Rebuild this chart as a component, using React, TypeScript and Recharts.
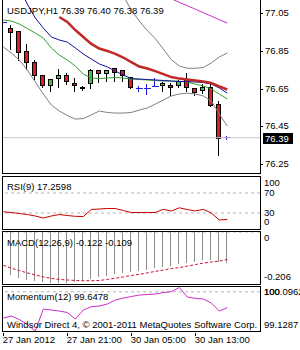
import React from 'react';
import { ComposedChart, Bar, Line, XAxis, YAxis, ReferenceLine } from 'recharts';

// USDJPY H1 candles (bar 28 is the current one)
const opens = [77.0, 76.97, 76.955, 76.85, 76.79, 76.72, 76.667, 76.707, 76.72, 76.678, 76.655, 76.678, 76.746, 76.732, 76.757, 76.746, 76.709, 76.651, 76.651, 76.663, 76.667, 76.667, 76.669, 76.699, 76.651, 76.64, 76.656, 76.568, 76.39];
const highs = [77.03, 76.99, 76.96, 76.89, 76.805, 76.727, 76.7, 76.757, 76.737, 76.709, 76.667, 76.757, 76.753, 76.753, 76.764, 76.748, 76.714, 76.669, 76.678, 76.709, 76.69, 76.681, 76.699, 76.739, 76.656, 76.678, 76.681, 76.589, 76.4];
const lows = [76.97, 76.86, 76.8, 76.75, 76.7, 76.656, 76.638, 76.656, 76.674, 76.638, 76.642, 76.651, 76.681, 76.686, 76.686, 76.686, 76.653, 76.637, 76.619, 76.66, 76.638, 76.616, 76.656, 76.638, 76.616, 76.625, 76.557, 76.294, 76.38];
const closes = [77.0, 76.95, 76.845, 76.79, 76.72, 76.665, 76.699, 76.72, 76.69, 76.667, 76.653, 76.748, 76.731, 76.748, 76.739, 76.722, 76.656, 76.651, 76.651, 76.663, 76.678, 76.656, 76.69, 76.656, 76.63, 76.656, 76.563, 76.386, 76.39];

// overlays on the price window
const maGreen = [77.015, 77.01, 76.994, 76.97, 76.946, 76.92, 76.867, 76.829, 76.803, 76.771, 76.728, 76.707, 76.704, 76.707, 76.71, 76.707, 76.702, 76.699, 76.697, 76.694, 76.691, 76.691, 76.689, 76.686, 76.675, 76.665, 76.649, 76.622, 76.596];
const maBlue = [null, null, 77.185, 77.1, 77.026, 76.973, 76.925, 76.909, 76.898, 76.867, 76.835, 76.808, 76.782, 76.766, 76.744, 76.723, 76.704, 76.702, 76.699, 76.697, 76.694, 76.691, 76.689, 76.688, 76.686, 76.683, 76.675, 76.654, 76.627];
const maRed = [null, null, null, null, null, null, null, 77.031, 77.005, 76.962, 76.925, 76.888, 76.864, 76.851, 76.835, 76.816, 76.792, 76.768, 76.758, 76.744, 76.728, 76.712, 76.704, 76.699, 76.694, 76.689, 76.681, 76.662, 76.646];
const bandUpper = [null, null, null, null, null, null, null, null, null, null, null, null, null, null, null, 77.143, 77.068, 77.01, 76.959, 76.917, 76.861, 76.805, 76.771, 76.759, 76.759, 76.763, 76.787, 76.819, 76.84];
const bandLower = [76.872, 76.84, 76.803, 76.75, 76.686, 76.622, 76.564, 76.532, 76.508, 76.489, 76.492, 76.511, 76.532, 76.524, 76.521, 76.521, 76.524, 76.537, 76.548, 76.569, 76.59, 76.612, 76.622, 76.627, 76.622, 76.612, 76.585, 76.516, 76.452];
const envUpper = [null, null, null, null, null, null, null, null, null, null, null, null, null, null, null, null, null, null, null, null, null, 77.128, 77.109, 77.091, 77.073, 77.054, 77.036, 77.017, 76.999];

// sub windows
const rsi = [32.6, 31, 29, 27, 24, 20, 24, 27, 25, 23.4, 23, 37, 38, 39, 39, 35, 31, 31, 31, 31, 37.4, 34, 40.4, 37, 34, 37.4, 30, 16, 17.2598];
const macdMain = [-0.16, -0.172, -0.182, -0.19, -0.196, -0.2, -0.202, -0.203, -0.201, -0.198, -0.195, -0.186, -0.18, -0.174, -0.168, -0.163, -0.16, -0.155, -0.15, -0.144, -0.138, -0.133, -0.127, -0.121, -0.117, -0.112, -0.11, -0.118, -0.122];
const macdSignal = [-0.132, -0.143, -0.153, -0.162, -0.17, -0.178, -0.184, -0.188, -0.19, -0.192, -0.193, -0.193, -0.192, -0.188, -0.183, -0.178, -0.172, -0.168, -0.162, -0.156, -0.151, -0.145, -0.141, -0.135, -0.129, -0.123, -0.119, -0.115, -0.109];
const momentum = [99.417, 99.462, 99.384, 99.273, 99.1287, 99.617, 99.595, 99.573, 99.54, 99.395, 99.595, 99.669, 99.684, 99.729, 99.818, 99.862, 99.895, 99.929, 99.94, 99.951, 99.984, 100.002, 100.0962, 99.884, 99.855, 99.84, 99.751, 99.573, 99.6478];

const priceTicks = [77.05, 76.85, 76.65, 76.45, 76.25];
const rsiTicks = [100, 70, 30, 0];
const macdTicks = [0, -0.206];
const momTicks = [100.0962, 100, 99.1287];
const timeTicks = [0, 8, 16, 24];
const timeLabels = ['27 Jan 2012', '27 Jan 21:00', '30 Jan 05:00', '30 Jan 13:00'];

const rows = opens.map((open, i) => ({
  i,
  open,
  high: highs[i],
  low: lows[i],
  close: closes[i],
  maGreen: maGreen[i],
  maBlue: maBlue[i],
  maRed: maRed[i],
  bandUpper: bandUpper[i],
  bandLower: bandLower[i],
  envUpper: envUpper[i],
  rsi: rsi[i],
  macd: macdMain[i],
  signal: macdSignal[i],
  momentum: momentum[i],
}));

const last = rows[rows.length - 1];
const FONT = '"Liberation Sans", Arial, sans-serif';
const FS = 9.5;
const X_DOMAIN: [number, number] = [-0.1625, 32.0875];

const Candle = (props: any) => {
  const { x, y, width, height, payload } = props;
  const cx = Math.floor(x + width / 2) + 0.5;
  const top = Math.min(y, y + height);
  const span = Math.abs(height);
  const py = (v: number) => Math.floor(top + ((payload.high - v) / (payload.high - payload.low)) * span) + 0.5;
  const hi = py(payload.high);
  const lo = py(payload.low);
  const o = py(payload.open);
  const c = py(payload.close);
  if (payload.open === payload.close) {
    return (
      <g stroke="#1e1ee6" shapeRendering="crispEdges">
        <line x1={cx} x2={cx} y1={hi} y2={lo} />
        <line x1={cx - 3} x2={cx + 4} y1={o} y2={o} />
      </g>
    );
  }
  const bull = payload.close > payload.open;
  const t = Math.min(o, c);
  const b = Math.max(o, c);
  return (
    <g shapeRendering="crispEdges">
      <line x1={cx} x2={cx} y1={hi} y2={lo} stroke="#000" />
      <path d={`M${cx - 2} ${t}H${cx + 2}V${b}H${cx - 2}Z`} fill={bull ? '#46c046' : '#e01c1c'} stroke="#000" />
    </g>
  );
};

const Stick = (props: any) => {
  const { x, y, width, height } = props;
  const cx = Math.floor(x + width / 2) + 0.5;
  const top = Math.min(y, y + height);
  return <line x1={cx} x2={cx} y1={top} y2={top + Math.abs(height)} stroke="#8c8c8c" shapeRendering="crispEdges" />;
};

const PriceTick = (props: any) => {
  const { x, y, payload } = props;
  const ly = Math.round(y) + 0.5;
  return (
    <g>
      <line x1={x} x2={x + 3} y1={ly} y2={ly} stroke="#000" shapeRendering="crispEdges" />
      <text x={x + 5} y={y + 3} fontSize={FS} fontFamily={FONT} fill="#000">
        {payload.value.toFixed(2)}
      </text>
    </g>
  );
};

const SideTick = (props: any) => {
  const { x, y, payload, lo, hi } = props;
  const cy = Math.min(hi, Math.max(lo, y - 1));
  return (
    <text x={x + 4} y={cy + 3.5} fontSize={FS} fontFamily={FONT} fill="#000">
      {String(payload.value)}
    </text>
  );
};

const TimeTick = (props: any) => {
  const { x, y, payload } = props;
  const k = timeTicks.indexOf(payload.value);
  const px = Math.floor(x) + 0.5;
  return (
    <g>
      <line x1={px} x2={px} y1={y + 2} y2={y + 5} stroke="#000" shapeRendering="crispEdges" />
      <text x={x - 0.5} y={y + 11.5} fontSize={FS} fontFamily={FONT} fill="#000">
        {timeLabels[k]}
      </text>
    </g>
  );
};

const PriceTag = (props: any) => {
  const { viewBox, text } = props;
  const left = viewBox.x + viewBox.width + 3;
  const ty = Math.round(viewBox.y);
  return (
    <g>
      <rect x={left} y={ty - 5} width={30} height={11} fill="#000" />
      <text x={left + 2} y={ty + 4} fontSize={FS} fontFamily={FONT} fill="#fff">
        {text}
      </text>
    </g>
  );
};

const abs = (top: number): React.CSSProperties => ({ position: 'absolute', left: 0, top });

export default function App() {
  return (
    <div style={{ position: 'absolute', left: 0, top: 0, width: 300, height: 350, background: '#fff', overflow: 'hidden' }}>
      {/* price window */}
      <div style={abs(0)}>
        <ComposedChart width={300} height={174} data={rows} margin={{ top: 0, right: 0, bottom: 0.5, left: 2 }}>
          <XAxis type="number" dataKey="i" domain={X_DOMAIN} hide allowDataOverflow />
          <YAxis
            orientation="right"
            width={40}
            domain={[76.2, 77.1215]}
            allowDataOverflow
            ticks={priceTicks}
            interval={0}
            tick={<PriceTick />}
            axisLine={false}
            tickLine={false}
            tickSize={0}
            tickMargin={0}
          />
          <ReferenceLine y={last.close} stroke="#c8c8c8" label={<PriceTag text={last.close.toFixed(2)} />} />
          <Bar dataKey={(d: any) => [d.low, d.high]} barSize={5} shape={<Candle />} isAnimationActive={false} />
          <Line dataKey="bandLower" stroke="#808080" strokeWidth={1} dot={false} isAnimationActive={false} />
          <Line dataKey="bandUpper" stroke="#808080" strokeWidth={1} dot={false} isAnimationActive={false} />
          <Line dataKey="envUpper" stroke="#cc2ccc" strokeWidth={1} dot={false} isAnimationActive={false} />
          <Line dataKey="maGreen" stroke="#2fa02f" strokeWidth={1} dot={false} isAnimationActive={false} />
          <Line dataKey="maBlue" stroke="#10109c" strokeWidth={1} dot={false} isAnimationActive={false} />
          <Line dataKey="maRed" stroke="#c02828" strokeWidth={2.5} dot={false} isAnimationActive={false} />
        </ComposedChart>
      </div>

      {/* RSI */}
      <div style={abs(176)}>
        <ComposedChart width={300} height={54} data={rows} margin={{ top: 2, right: 0, bottom: 2, left: 2 }}>
          <XAxis type="number" dataKey="i" domain={X_DOMAIN} hide allowDataOverflow />
          <YAxis
            orientation="right"
            width={40}
            domain={[0, 100]}
            ticks={rsiTicks}
            interval={0}
            tick={<SideTick lo={6.5} hi={45.5} />}
            axisLine={false}
            tickLine={false}
            tickSize={0}
            tickMargin={0}
          />
          <ReferenceLine y={70} stroke="#b4b4b4" strokeDasharray="3 3" />
          <ReferenceLine y={30} stroke="#b4b4b4" strokeDasharray="3 3" />
          <Line dataKey="rsi" stroke="#c80000" strokeWidth={1} dot={false} isAnimationActive={false} />
        </ComposedChart>
      </div>

      {/* MACD */}
      <div style={abs(231)}>
        <ComposedChart width={300} height={54} data={rows} margin={{ top: 1, right: 0, bottom: 1, left: 2 }}>
          <XAxis type="number" dataKey="i" domain={X_DOMAIN} hide allowDataOverflow />
          <YAxis
            orientation="right"
            width={40}
            domain={[-0.206, 0]}
            allowDataOverflow
            ticks={macdTicks}
            interval={0}
            tick={<SideTick lo={6.5} hi={45.5} />}
            axisLine={false}
            tickLine={false}
            tickSize={0}
            tickMargin={0}
          />
          <ReferenceLine y={0} stroke="#b4b4b4" strokeDasharray="3 3" />
          <Bar dataKey="macd" barSize={1} shape={<Stick />} isAnimationActive={false} />
          <Line dataKey="signal" stroke="#d01030" strokeWidth={1} strokeDasharray="3 2" dot={false} isAnimationActive={false} />
        </ComposedChart>
      </div>

      {/* Momentum + time axis */}
      <div style={abs(286)}>
        <ComposedChart width={300} height={64} data={rows} margin={{ top: 1.5, right: 0, bottom: 0, left: 2 }}>
          <XAxis
            type="number"
            dataKey="i"
            domain={X_DOMAIN}
            allowDataOverflow
            ticks={timeTicks}
            interval={0}
            height={19}
            tick={<TimeTick />}
            axisLine={false}
            tickLine={false}
            tickSize={0}
            tickMargin={0}
          />
          <YAxis
            orientation="right"
            width={40}
            domain={[99.1287, 100.0962]}
            ticks={momTicks}
            interval={0}
            tick={<SideTick lo={5.5} hi={38} />}
            axisLine={false}
            tickLine={false}
            tickSize={0}
            tickMargin={0}
          />
          <ReferenceLine y={100} stroke="#b4b4b4" strokeDasharray="3 3" />
          <Line dataKey="momentum" stroke="#cc2ccc" strokeWidth={1} dot={false} isAnimationActive={false} />
        </ComposedChart>
      </div>

      {/* window frames and captions */}
      <svg
        width={300}
        height={350}
        style={{ position: 'absolute', left: 0, top: 0, pointerEvents: 'none' }}
        fontFamily={FONT}
        fontSize={FS}
      >
        <g fill="none" stroke="#000" shapeRendering="crispEdges">
          <rect x={2.5} y={-0.5} width={258} height={174} />
          <rect x={2.5} y={176.5} width={258} height={53} />
          <rect x={2.5} y={231.5} width={258} height={53} />
          <rect x={2.5} y={286.5} width={258} height={45} />
        </g>
        <text x={7} y={14}>
          {`USDJPY,H1  ${last.open.toFixed(2)} ${last.high.toFixed(2)} ${last.low.toFixed(2)} ${last.close.toFixed(2)}`}
        </text>
        <text x={7} y={189.5}>{`RSI(9) ${last.rsi.toFixed(4)}`}</text>
        <text x={7} y={246}>{`MACD(12,26,9) ${last.macd.toFixed(3)} ${last.signal.toFixed(3)}`}</text>
        <text x={7} y={300}>{`Momentum(12) ${last.momentum.toFixed(4)}`}</text>
        <text x={7} y={327.5}>Windsor Direct 4, © 2001-2011 MetaQuotes Software Corp.</text>
      </svg>
    </div>
  );
}
